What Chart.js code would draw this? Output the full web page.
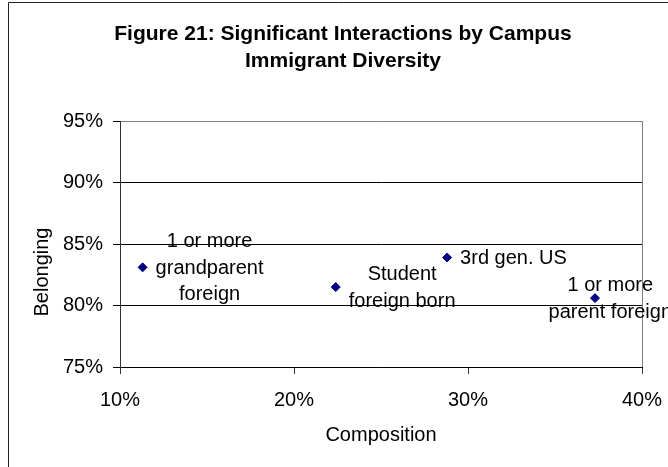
<!DOCTYPE html>
<html>
<head>
<meta charset="utf-8">
<script src="https://cdn.jsdelivr.net/npm/chart.js@4"></script>
<style>
  html, body { margin: 0; padding: 0; background: #fff; }
</style>
</head>
<body>
<canvas id="chart" width="668" height="467"></canvas>
<script>
// chart data
const titleLines = ["Figure 21: Significant Interactions by Campus", "Immigrant Diversity"];
const pointLabels = [
  ["1 or more", "grandparent", "foreign"],
  ["Student", "foreign born"],
  ["3rd gen. US"],
  ["1 or more", "parent foreign"],
];
const composition = [11.3, 22.4, 28.8, 37.3];
const belonging = [83.1, 81.5, 83.9, 80.6];
const xTicks = [10, 20, 30, 40];
const yTicks = [75, 80, 85, 90, 95];

const FONT = '"Liberation Sans", Arial, sans-serif';

// white background + the outer chart border
const framePlugin = {
  id: "frame",
  beforeDraw(chart) {
    const ctx = chart.ctx;
    ctx.save();
    ctx.fillStyle = "#fff";
    ctx.fillRect(0, 0, chart.width, chart.height);
    ctx.strokeStyle = "#222";
    ctx.lineWidth = 1;
    ctx.beginPath();
    ctx.moveTo(8.5, chart.height);
    ctx.lineTo(8.5, 2.5);
    ctx.lineTo(chart.width, 2.5);
    ctx.stroke();
    ctx.restore();
  },
};

// data labels to the right of each point, pushed back inside the chart edge
const pointLabelPlugin = {
  id: "pointLabels",
  afterDatasetsDraw(chart) {
    const ctx = chart.ctx;
    const meta = chart.getDatasetMeta(0);
    ctx.save();
    ctx.font = "20px " + FONT;
    ctx.fillStyle = "#000";
    ctx.textAlign = "center";
    ctx.textBaseline = "middle";
    meta.data.forEach((pt, i) => {
      const lines = pointLabels[i];
      const w = Math.max(...lines.map((l) => ctx.measureText(l).width));
      const left = Math.min(pt.x + 13, chart.width + 4 - w);
      lines.forEach((line, j) => {
        ctx.fillText(line, left + w / 2, pt.y + 1 + (j - (lines.length - 1) / 2) * 26.5);
      });
    });
    ctx.restore();
  },
};

// y axis title sits a bit below the middle of the plot, like the original
const yTitlePlugin = {
  id: "yTitle",
  afterDraw(chart) {
    const { ctx, chartArea } = chart;
    ctx.save();
    ctx.translate(chartArea.left - 78, (chartArea.top + chartArea.bottom) / 2 + 28);
    ctx.rotate(-Math.PI / 2);
    ctx.font = "20px " + FONT;
    ctx.fillStyle = "#000";
    ctx.textAlign = "center";
    ctx.textBaseline = "middle";
    ctx.fillText("Belonging", 0, 0);
    ctx.restore();
  },
};

const ctx = document.getElementById("chart").getContext("2d");
new Chart(ctx, {
  type: "scatter",
  data: {
    datasets: [
      {
        data: composition.map((x, i) => ({ x, y: belonging[i] })),
        pointStyle: "rectRot",
        pointRadius: 4.5,
        pointHoverRadius: 4.5,
        backgroundColor: "#000080",
        borderColor: "#000080",
        borderWidth: 1,
      },
    ],
  },
  options: {
    responsive: false,
    animation: false,
    devicePixelRatio: 1,
    layout: { padding: { left: 18, right: 0, top: 0, bottom: 0 } },
    plugins: {
      legend: { display: false },
      tooltip: { enabled: false },
      title: {
        display: true,
        text: titleLines,
        color: "#000",
        font: { family: FONT, size: 21, weight: "bold", lineHeight: 27 / 21 },
        padding: { top: 20.5, bottom: 46.5 },
      },
    },
    scales: {
      x: {
        type: "linear",
        min: 10,
        max: 40,
        afterBuildTicks: (s) => { s.ticks = xTicks.map((v) => ({ value: v })); },
        afterFit: (s) => { s.height = 100; s.paddingRight = 26; },
        ticks: {
          callback: (v) => v + "%",
          color: "#000",
          font: { family: FONT, size: 20 },
          padding: 14,
          maxRotation: 0,
        },
        grid: {
          color: (c) => (c.tick && c.tick.value === 40 ? "#808080" : "rgba(0,0,0,0)"),
          tickColor: "#333",
          tickLength: 7,
        },
        border: { color: "#000" },
        title: {
          display: true,
          text: "Composition",
          color: "#000",
          font: { family: FONT, size: 20 },
          padding: { top: 0, bottom: 20 },
        },
      },
      y: {
        min: 75,
        max: 95,
        afterBuildTicks: (s) => { s.ticks = yTicks.map((v) => ({ value: v })); },
        afterFit: (s) => { s.width = 102; },
        ticks: {
          callback: (v) => v + "%",
          color: "#000",
          font: { family: FONT, size: 20 },
          padding: 10,
        },
        grid: {
          color: (c) => (c.tick && c.tick.value === 95 ? "#808080" : "#000"),
          tickColor: "#000",
          tickLength: 7,
        },
        border: { color: "#333" },
      },
    },
  },
  plugins: [framePlugin, pointLabelPlugin, yTitlePlugin],
});
</script>
</body>
</html>
